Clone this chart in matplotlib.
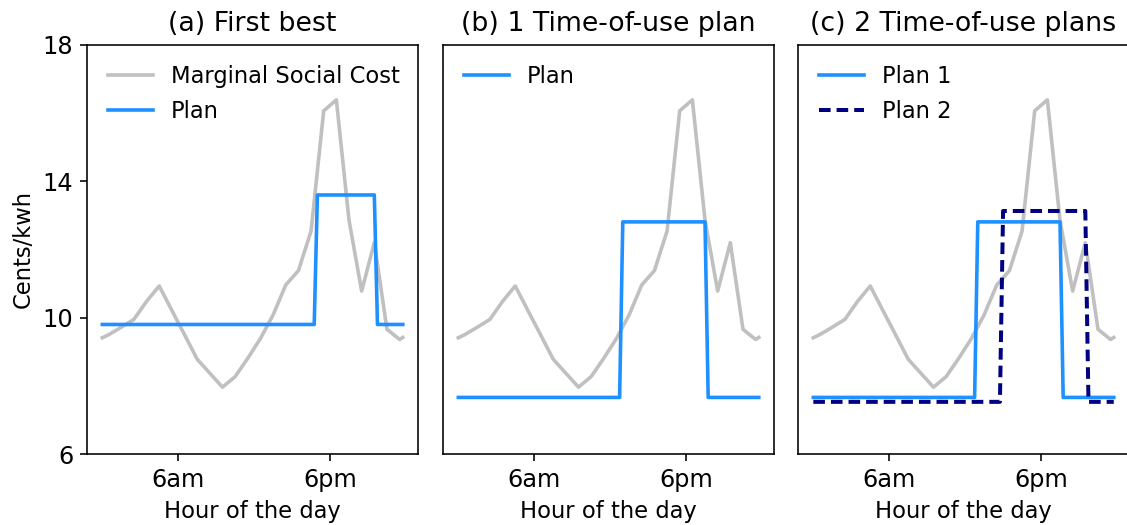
import matplotlib
matplotlib.use("Agg")
import matplotlib.pyplot as plt

# Marginal social cost (cents/kwh) by hour of the day
msc_hours = [0, 0.5, 1.5, 2.5, 3.5, 4.5, 5.5, 6.5, 7.5, 8.5, 9.5, 10.5, 11.5, 12.5,
             13.5, 14.5, 15.5, 16.5, 17.5, 18.5, 19.5, 20.5, 21.5, 22.5, 23.5, 23.75]
msc_values = [9.41, 9.50, 9.72, 9.95, 10.48, 10.93, 10.21, 9.50, 8.78, 8.37, 7.96, 8.27,
              8.81, 9.39, 10.08, 10.96, 11.38, 12.54, 16.07, 16.39, 12.86, 10.78, 12.20,
              9.66, 9.36, 9.42]

# (a) first-best plan
plan_a_hours = [0, 16.75, 17.0, 21.5, 21.75, 23.75]
plan_a_values = [9.80, 9.80, 13.60, 13.60, 9.80, 9.80]

# (b) single time-of-use plan / (c) plan 1
plan_b_hours = [0, 12.75, 13.0, 19.5, 19.75, 23.75]
plan_b_values = [7.66, 7.66, 12.81, 12.81, 7.66, 7.66]

# (c) plan 2
plan_c2_hours = [0, 14.75, 15.0, 21.5, 21.75, 23.75]
plan_c2_values = [7.53, 7.53, 13.13, 13.13, 7.53, 7.53]

titles = ["(a) First best", "(b) 1 Time-of-use plan", "(c) 2 Time-of-use plans"]
xtick_pos = [6, 18]
xtick_labels = ["6am", "6pm"]
ytick_pos = [6, 10, 14, 18]

plt.rcParams["font.family"] = ["DejaVu Sans"]
plt.rcParams["font.size"] = 12

W, H = 1127, 525
DPI = 144
fig = plt.figure(figsize=(W / DPI, H / DPI), dpi=DPI)

lefts = [87.3, 443.3, 798.3]
ax_w = 330.5
top, bottom = 45, 454

GRAY = "#c0c0c0"
BLUE = "#1e90ff"
NAVY = "#000080"
LW = 1.8

axes = []
for i, l in enumerate(lefts):
    ax = fig.add_axes([l / W, (H - bottom) / H, ax_w / W, (bottom - top) / H])
    axes.append(ax)
    ax.set_ylim(6, 18)
    ax.set_yticks(ytick_pos)
    ax.set_xticks(xtick_pos)
    ax.set_xticklabels(xtick_labels)
    ax.tick_params(labelsize=12)
    ax.set_title(titles[i], fontsize=13.4, pad=7)
    ax.set_xlabel("Hour of the day", fontsize=11.3)
    if i > 0:
        ax.tick_params(axis="y", left=False, labelleft=False)

ax = axes[0]
ax.plot(msc_hours, msc_values, color=GRAY, lw=LW, label="Marginal Social Cost")
ax.plot(plan_a_hours, plan_a_values, color=BLUE, lw=LW, label="Plan")
ax.set_ylabel("Cents/kwh", fontsize=11.3)
ax.legend(loc="upper left", frameon=False, fontsize=11.3)

ax = axes[1]
ax.plot(msc_hours, msc_values, color=GRAY, lw=LW)
ax.plot(plan_b_hours, plan_b_values, color=BLUE, lw=LW, label="Plan")
ax.legend(loc="upper left", frameon=False, fontsize=11.3)

ax = axes[2]
ax.plot(msc_hours, msc_values, color=GRAY, lw=LW)
ax.plot(plan_b_hours, plan_b_values, color=BLUE, lw=LW, label="Plan 1")
ax.plot(plan_c2_hours, plan_c2_values, color=NAVY, lw=2.0, ls="--",
        dashes=(2.9, 1.5), label="Plan 2")
ax.legend(loc="upper left", frameon=False, fontsize=11.3)

for ax in axes:
    ax.set_xlim(-1.1875, 24.9375)

fig.savefig("out.png", dpi=DPI)
